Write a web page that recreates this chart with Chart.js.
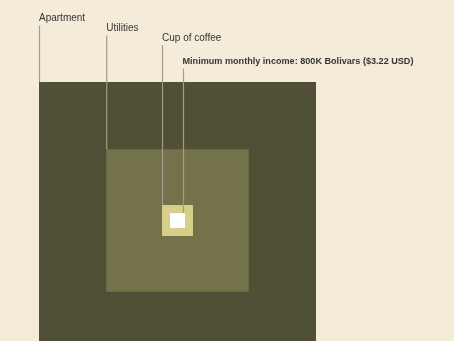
<!DOCTYPE html>
<html>
<head>
<meta charset="utf-8">
<script src="https://cdn.jsdelivr.net/npm/chart.js@4/dist/chart.umd.min.js"></script>
<style>
  html, body { margin: 0; padding: 0; background: #f4ebd9; }
  #wrap { width: 454px; height: 341px; position: relative; overflow: hidden; }
  canvas { display: block; }
</style>
</head>
<body>
<div id="wrap"><canvas id="c" width="454" height="341"></canvas></div>
<script>
// ---- data (costs in thousands of Bolivars; square area is proportional to cost) ----
const categories = ["Apartment", "Utilities", "Cup of coffee", "Minimum monthly income: 800K Bolivars ($3.22 USD)"];
const costsKBs = [272000, 72000, 3400, 800];
const labelBold = [false, false, false, true];

// ---- styles ----
const BG = "#f4ebd9";
const fillColors = ["#4f5036", "#74724b", "#d5cf8a", "#ffffff"];
const labelY = [18.5, 28.5, 38, 61.5];
const LEADER = "#a39b88";
const TEXT = "#363636";

const sides = costsKBs.map(v => Math.sqrt(v));
const A = sides[0];
const W = 454, H = 341;
const padL = 39, padR = 138, padT = 82;
const pxPerUnit = (W - padL - padR) / A;
const yMax = A / 2;
const yMin = yMax - (H - padT) / pxPerUnit;

const squaresPlugin = {
  id: "squares",
  beforeDraw(chart) {
    const ctx = chart.ctx;
    ctx.save();
    ctx.fillStyle = BG;
    ctx.fillRect(0, 0, chart.width, chart.height);
    ctx.restore();
  },
  afterDatasetsDraw(chart) {
    const ctx = chart.ctx;
    const xs = chart.scales.x, ys = chart.scales.y;
    const boxes = sides.map(s => ({
      x0: xs.getPixelForValue(-s / 2),
      x1: xs.getPixelForValue(s / 2),
      y0: ys.getPixelForValue(s / 2),
      y1: ys.getPixelForValue(-s / 2)
    }));
    ctx.save();
    boxes.forEach((b, i) => {
      ctx.fillStyle = fillColors[i];
      ctx.fillRect(b.x0, b.y0, b.x1 - b.x0, b.y1 - b.y0);
    });
    // leader lines
    ctx.strokeStyle = LEADER;
    ctx.lineWidth = 1.2;
    boxes.forEach((b, i) => {
      const lx = labelBold[i] ? b.x1 - 1.5 : b.x0 + 0.5;
      ctx.beginPath();
      ctx.moveTo(lx, labelY[i] + 7);
      ctx.lineTo(lx, b.y0);
      ctx.stroke();
    });
    // labels
    ctx.fillStyle = TEXT;
    ctx.textBaseline = "middle";
    ctx.textAlign = "left";
    boxes.forEach((b, i) => {
      const lx = labelBold[i] ? b.x1 - 2.5 : b.x0;
      ctx.font = labelBold[i] ? "bold 9.1px 'Liberation Sans', Arial, sans-serif" : "10px 'Liberation Sans', Arial, sans-serif";
      ctx.fillText(categories[i], lx, labelY[i]);
    });
    ctx.restore();
  }
};

new Chart(document.getElementById("c"), {
  type: "scatter",
  data: {
    datasets: [{
      label: "centre",
      data: [{ x: 0, y: 0 }],
      pointRadius: 0,
      pointHoverRadius: 0
    }]
  },
  options: {
    responsive: false,
    animation: false,
    devicePixelRatio: 1,
    layout: { padding: { left: padL, right: padR, top: padT, bottom: 0 } },
    scales: {
      x: { type: "linear", display: false, min: -A / 2, max: A / 2 },
      y: { type: "linear", display: false, min: yMin, max: yMax }
    },
    plugins: { legend: { display: false }, tooltip: { enabled: false } },
    events: []
  },
  plugins: [squaresPlugin]
});
</script>
</body>
</html>
